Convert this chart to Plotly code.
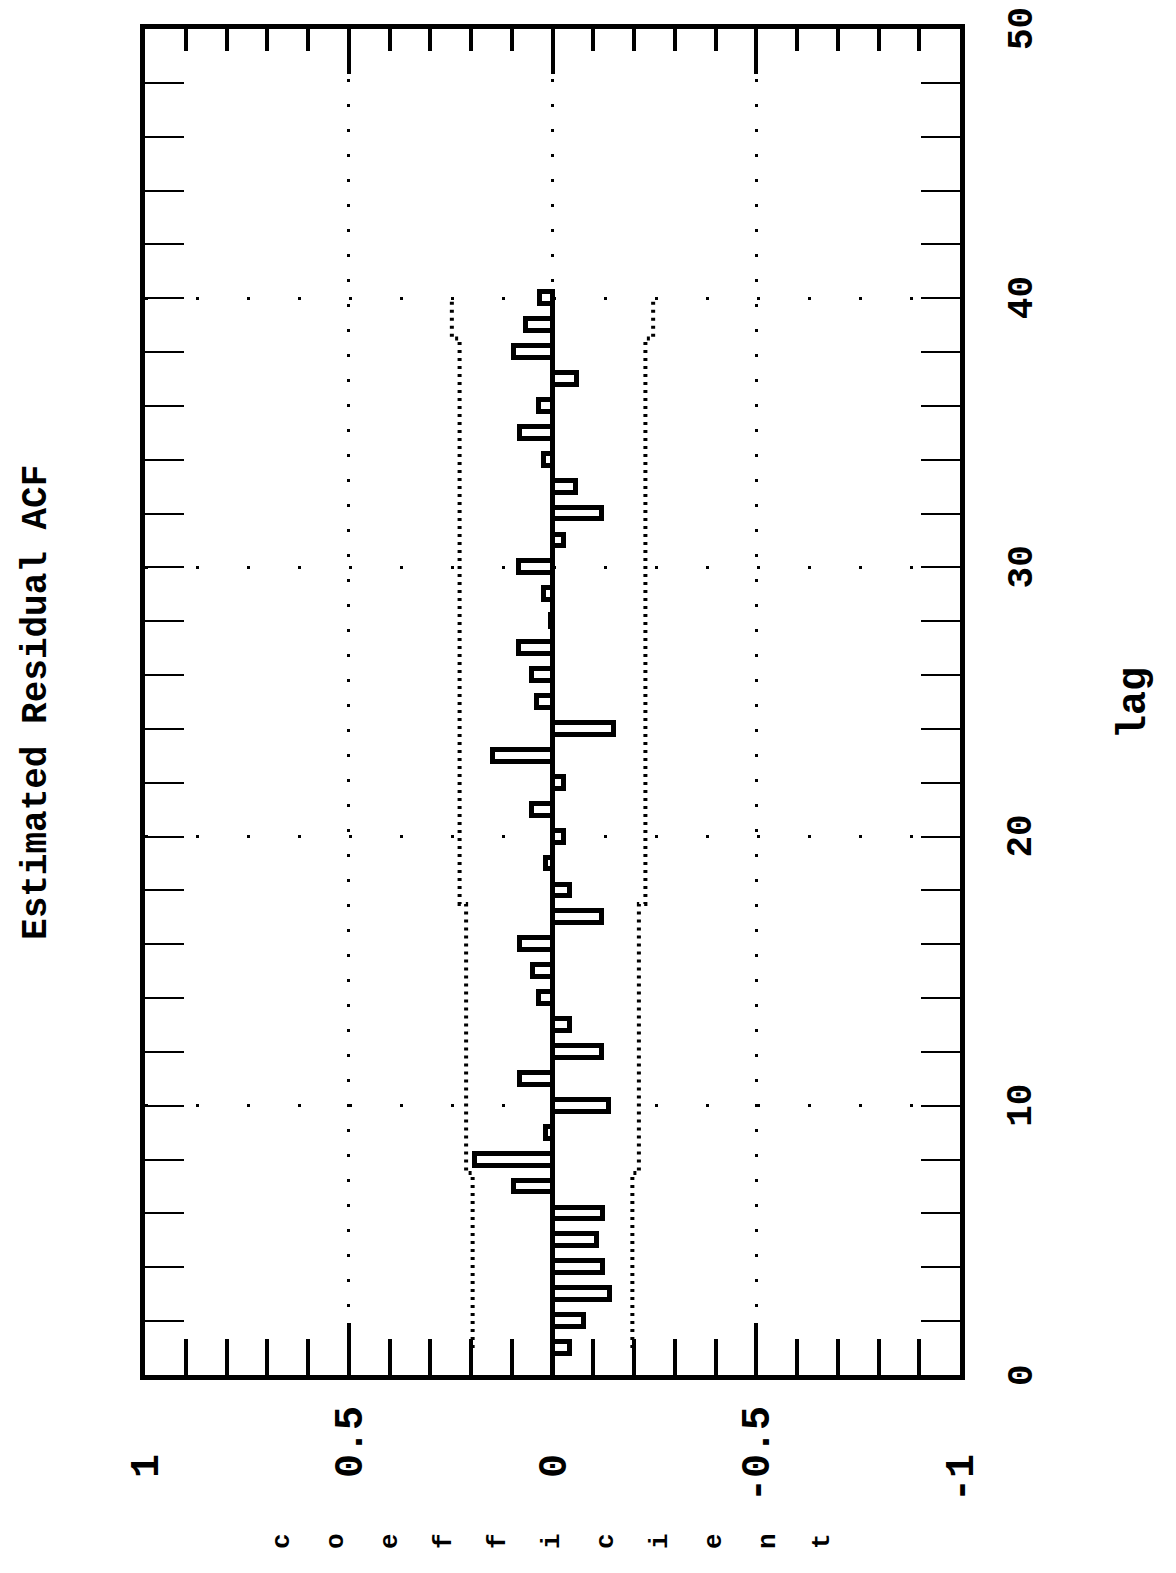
import plotly.graph_objects as go

# ---- data ----
lags = list(range(1, 41))
acf = [-0.044, -0.077, -0.140, -0.123, -0.108, -0.123, 0.095, 0.191, 0.017, -0.138,
       0.080, -0.122, -0.042, 0.034, 0.049, 0.080, -0.122, -0.042, 0.017, -0.028,
       0.050, -0.027, 0.146, -0.152, 0.037, 0.051, 0.082, 0.004, 0.020, 0.082,
       -0.027, -0.122, -0.058, 0.020, 0.080, 0.032, -0.060, 0.095, 0.064, 0.030]
band = [0.196] * 7 + [0.212] * 10 + [0.228] * 21 + [0.247] * 2

coef_ticks = [1, 0.5, 0, -0.5, -1]
coef_ticktext = ["\u00a01\u00a0\u00a0", "\u00a00.5", "\u00a00\u00a0\u00a0", "-0.5", "-1\u00a0\u00a0"]
lag_ticks = [0, 10, 20, 30, 40, 50]
lag_ticktext = ["0", "10", "20", "30", "40", "50"]

title_text = "Estimated Residual ACF"
xlabel = "coefficient"
ylabel = "lag"

FONT = "Liberation Mono, DejaVu Sans Mono, monospace"

fig = go.Figure()

# confidence bands
for sgn in (1, -1):
    fig.add_trace(go.Scatter(x=[sgn * b for b in band], y=lags, mode="lines", line_shape="vhv",
                             line=dict(color="black", width=4, dash="3px,5px"),
                             hoverinfo="skip", showlegend=False))

# zero line over the computed lags
fig.add_trace(go.Scatter(x=[0, 0], y=[0, lags[-1] + 0.3], mode="lines",
                         line=dict(color="black", width=5),
                         hoverinfo="skip", showlegend=False))

# ACF bars
fig.add_trace(go.Bar(x=acf, y=lags, orientation="h", width=0.44,
                     marker=dict(color="white", line=dict(color="black", width=5)),
                     showlegend=False))

# dummy trace for top axis
fig.add_trace(go.Scatter(x=[0], y=[0], xaxis="x2", mode="markers",
                         marker=dict(opacity=0), hoverinfo="skip", showlegend=False))

fig.update_layout(
    width=1176, height=1573,
    margin=dict(l=137, r=224, t=21, b=206, autoexpand=False),
    paper_bgcolor="white", plot_bgcolor="white",
    font=dict(family=FONT, color="black"),
    bargap=0,
    xaxis=dict(
        range=[1, -1], tickmode="array", tickvals=coef_ticks, ticktext=coef_ticktext,
        tickangle=-90, tickfont=dict(size=40, family=FONT, color="black", weight="bold"),
        ticks="inside", ticklen=52, tickwidth=4, tickcolor="black",
        minor=dict(dtick=0.1, tick0=0, ticks="inside", ticklen=36, tickwidth=4,
                   tickcolor="black", showgrid=False),
        showline=True, linewidth=5, linecolor="black", mirror=True,
        showgrid=True, gridcolor="black", gridwidth=3, griddash="3px,22px",
        zeroline=False, ticklabelstandoff=10, ticklabeloverflow="allow",
        automargin=False,
    ),
    xaxis2=dict(
        range=[1, -1], overlaying="x", side="top", anchor="y",
        tickmode="array", tickvals=coef_ticks, showticklabels=False,
        ticks="inside", ticklen=45, tickwidth=4, tickcolor="black",
        minor=dict(dtick=0.1, tick0=0, ticks="inside", ticklen=22, tickwidth=4,
                   tickcolor="black", showgrid=False),
        showline=False, showgrid=False, zeroline=False, automargin=False,
    ),
    yaxis=dict(
        range=[0, 50], tickmode="array", tickvals=lag_ticks, showticklabels=False,
        side="right",
        ticks="inside", ticklen=39, tickwidth=2, tickcolor="black",
        minor=dict(dtick=2, tick0=0, ticks="inside", ticklen=19, tickwidth=2,
                   tickcolor="black", showgrid=False),
        showline=True, linewidth=5, linecolor="black", mirror="allticks",
        showgrid=True, gridcolor="black", gridwidth=3, griddash="3px,48px",
        zeroline=False, automargin=False,
    ),
)

# lag tick labels, placed on the lag axis scale (rotated)
for v, t in zip(lag_ticks, lag_ticktext):
    fig.add_annotation(text=t, xref="paper", yref="y", x=1.0761, y=v,
                       xanchor="center", yanchor="middle", textangle=-90, showarrow=False,
                       borderpad=0,
                       font=dict(size=36, family=FONT, color="black", weight="bold"))

# title (rotated)
fig.add_annotation(text=title_text, xref="paper", yref="paper", x=-0.1325, y=0.4993,
                   xanchor="center", yanchor="middle", textangle=-90, showarrow=False,
                   font=dict(size=36, family=FONT, color="black", weight="bold"))
# lag label (rotated)
fig.add_annotation(text=ylabel, xref="paper", yref="paper", x=1.2147, y=0.4993,
                   xanchor="center", yanchor="middle", textangle=-90, showarrow=False,
                   font=dict(size=40, family=FONT, color="black", weight="bold"))
# coefficient label: stacked characters, each rotated
for i, ch in enumerate(xlabel):
    fig.add_annotation(text=ch, xref="paper", yref="paper", x=0.1681 + i * 0.06626, y=-0.1233,
                       xanchor="center", yanchor="middle", textangle=-90, showarrow=False,
                       font=dict(size=26, family=FONT, color="black", weight="bold"))

fig.write_html("out.html")
